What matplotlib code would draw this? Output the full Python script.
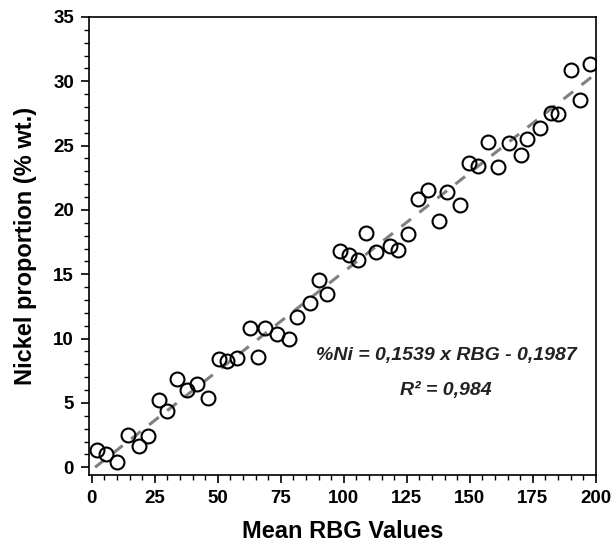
import matplotlib.pyplot as plt
import numpy as np

# Mean RBG values vs nickel proportion
rbg = [1.9, 5.7, 10.2, 14.3, 18.7, 22.4, 26.6, 29.8, 33.7, 37.9,
       41.8, 46.2, 50.6, 53.8, 57.8, 62.7, 66.1, 68.9, 73.7, 78.3,
       81.3, 86.7, 90.3, 93.4, 98.5, 102.2, 105.5, 108.9, 112.8, 118.4,
       121.7, 125.6, 129.3, 133.6, 137.9, 140.9, 146.1, 149.7, 153.4, 157.4,
       161.1, 165.5, 170.3, 172.9, 177.9, 182.2, 185.1, 190.2, 193.8, 197.7]
nickel = [1.32, 1.01, 0.39, 2.51, 1.69, 2.41, 5.26, 4.35, 6.84, 5.98,
          6.50, 5.38, 8.41, 8.26, 8.52, 10.85, 8.59, 10.80, 10.33, 9.97,
          11.68, 12.80, 14.53, 13.50, 16.78, 16.47, 16.14, 18.24, 16.73, 17.17,
          16.86, 18.16, 20.82, 21.52, 19.11, 21.41, 20.41, 23.64, 23.41, 25.28,
          23.31, 25.23, 24.24, 25.49, 26.36, 27.51, 27.48, 30.85, 28.52, 31.31]

# calibration fit reported in the figure
slope = 0.1539
intercept = -0.1987

plt.rcParams['font.family'] = ['Liberation Sans', 'DejaVu Sans']

fig = plt.figure(figsize=(6.14, 5.46), dpi=100)
ax = fig.add_axes([0.1454, 0.130, 0.8248, 0.839])

# fit line
xf = np.array([1.3, 199.0])
ax.plot(xf, slope * xf + intercept, '--', color='#808080', linewidth=2.2,
        dashes=(4, 3.5), zorder=1)

# measured points
ax.plot(rbg, nickel, 'o', markersize=10, markerfacecolor='none',
        markeredgecolor='black', markeredgewidth=1.5, zorder=2)

ax.set_xlim(-1, 200)
ax.set_ylim(-0.6, 35)
ax.set_xticks(np.arange(0, 201, 25))
ax.set_yticks(np.arange(0, 36, 5))
ax.set_xticks(np.arange(0, 201, 5), minor=True)
ax.set_yticks(np.arange(0, 36, 1), minor=True)
ax.tick_params(which='major', direction='out', length=6, width=1.2,
               labelsize=13.5, pad=5)
ax.tick_params(which='minor', direction='out', length=3.5, width=1.0)
for lab in ax.get_xticklabels() + ax.get_yticklabels():
    lab.set_fontweight('bold')
for sp in ax.spines.values():
    sp.set_linewidth(1.2)

ax.set_xlabel('Mean RBG Values', fontsize=17, fontweight='bold', labelpad=9)
ax.set_ylabel('Nickel proportion (% wt.)', fontsize=17, fontweight='bold', labelpad=12)

# equation text
ax.text(140.6, 8.7, '%Ni = 0,1539 x RBG - 0,1987', ha='center', va='center',
        fontsize=14, fontweight='bold', fontstyle='italic', color='#222222')
ax.text(140.6, 6.0, 'R² = 0,984', ha='center', va='center',
        fontsize=14, fontweight='bold', fontstyle='italic', color='#222222')

fig.savefig('out.png', dpi=100)
